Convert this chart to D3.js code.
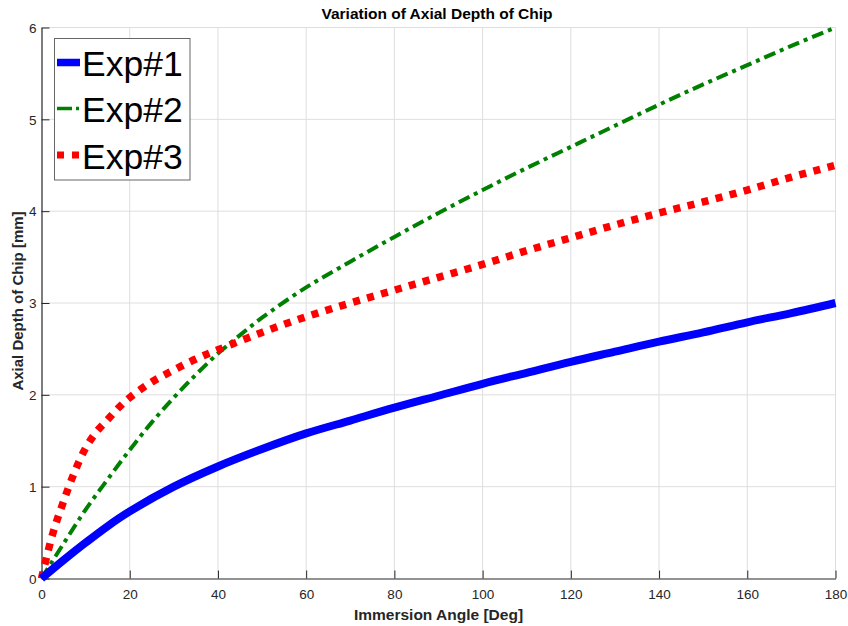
<!DOCTYPE html>
<html>
<head>
<meta charset="utf-8">
<script src="https://cdn.jsdelivr.net/npm/d3@7/dist/d3.min.js"></script>
<style>
  html, body { margin: 0; padding: 0; background: #fff; }
  svg { display: block; font-family: "Liberation Sans", Arial, Helvetica, sans-serif; }
</style>
</head>
<body>
<svg id="chart" width="848" height="626"></svg>
<script>
// ---- Data ----
const title = "Variation of Axial Depth of Chip";
const xLabel = "Immersion Angle [Deg]";
const yLabel = "Axial Depth of Chip [mm]";
const xTicks = [0, 20, 40, 60, 80, 100, 120, 140, 160, 180];
const yTicks = [0, 1, 2, 3, 4, 5, 6];
const seriesNames = ["Exp#1", "Exp#2", "Exp#3"];

const anglesExp1 = [0, 5, 10, 15, 20, 30, 40, 50, 60, 70, 80, 90, 100, 110, 120, 130, 140, 150, 160, 170, 180];
const depthExp1  = [0, 0.20, 0.39, 0.57, 0.73, 1.00, 1.22, 1.41, 1.58, 1.72, 1.86, 1.99, 2.12, 2.24, 2.36, 2.47, 2.58, 2.68, 2.79, 2.89, 3.00];

const anglesExp2 = [0, 5, 10, 15, 20, 25, 30, 35, 40, 45, 50, 60, 70, 80, 90, 100, 110, 120, 130, 140, 150, 160, 170, 180];
const depthExp2  = [0, 0.38, 0.75, 1.08, 1.40, 1.70, 1.97, 2.22, 2.45, 2.65, 2.84, 3.17, 3.45, 3.72, 3.98, 4.23, 4.47, 4.70, 4.93, 5.16, 5.38, 5.59, 5.80, 6.00];

const anglesExp3 = [0, 2.5, 5, 7.5, 10, 12.5, 15, 17.5, 20, 25, 30, 35, 40, 50, 60, 70, 80, 90, 100, 110, 120, 130, 140, 150, 160, 170, 180];
const depthExp3  = [0, 0.48, 0.84, 1.16, 1.42, 1.60, 1.73, 1.86, 1.97, 2.14, 2.27, 2.39, 2.49, 2.68, 2.85, 3.00, 3.14, 3.28, 3.42, 3.57, 3.71, 3.85, 3.98, 4.10, 4.23, 4.37, 4.50];

// ---- Layout ----
const svg = d3.select("#chart");
const m = { left: 41.5, right: 835.5, top: 27.5, bottom: 578.5 };
const x = d3.scaleLinear().domain([0, 180]).range([m.left, m.right]);
const y = d3.scaleLinear().domain([0, 6]).range([m.bottom, m.top]);
const axisColor = "#262626";

svg.append("rect").attr("width", 848).attr("height", 626).attr("fill", "#fff");

// grid
const grid = svg.append("g");
grid.selectAll(".gx").data(xTicks.filter(d => d !== 0)).enter().append("line")
  .attr("x1", d => x(d)).attr("x2", d => x(d))
  .attr("y1", m.top).attr("y2", m.bottom)
  .attr("stroke", "#dedede").attr("stroke-width", 1);
grid.selectAll(".gy").data(yTicks.filter(d => d !== 0)).enter().append("line")
  .attr("x1", m.left).attr("x2", m.right)
  .attr("y1", d => y(d)).attr("y2", d => y(d))
  .attr("stroke", "#dedede").attr("stroke-width", 1);

// axes
const fmt = d3.format("d");
const xAxis = d3.axisBottom(x).tickValues(xTicks).tickFormat(fmt).tickSizeInner(-8).tickSizeOuter(0);
const yAxis = d3.axisLeft(y).tickValues(yTicks).tickFormat(fmt).tickSizeInner(-8).tickSizeOuter(0);

const gx = svg.append("g").attr("transform", `translate(0,${m.bottom})`).call(xAxis);
const gy = svg.append("g").attr("transform", `translate(${m.left},0)`).call(yAxis);
[gx, gy].forEach(g => {
  g.attr("font-size", null).attr("font-family", null);
  g.select(".domain").attr("stroke", axisColor).attr("stroke-width", 1.2);
  g.selectAll(".tick line").attr("stroke", axisColor).attr("stroke-width", 1);
  g.selectAll(".tick text").attr("fill", axisColor)
    .style("font-size", "13.5px")
    .style("font-family", "'Liberation Sans', Arial, sans-serif");
});
gx.selectAll(".tick text").attr("y", 10.5).attr("dy", "0.71em");
gy.selectAll(".tick text").attr("x", -5).attr("dy", "0.35em");

// lines
const line = d3.line().x(d => x(d[0])).y(d => y(d[1])).curve(d3.curveCatmullRom.alpha(0.5));
const plot = svg.append("g");

plot.append("path")
  .datum(d3.zip(anglesExp2, depthExp2))
  .attr("d", line).attr("fill", "none")
  .attr("stroke", "#008000").attr("stroke-width", 4)
  .attr("stroke-dasharray", "12,5,4,5");

plot.append("path")
  .datum(d3.zip(anglesExp3, depthExp3))
  .attr("d", line).attr("fill", "none")
  .attr("stroke", "#ff0000").attr("stroke-width", 7.5)
  .attr("stroke-dasharray", "7,7.5");

plot.append("path")
  .datum(d3.zip(anglesExp1, depthExp1))
  .attr("d", line).attr("fill", "none")
  .attr("stroke", "#0000ff").attr("stroke-width", 8)
  .attr("stroke-linejoin", "round");

// title and labels
svg.append("text").attr("x", 437).attr("y", 18.5).attr("text-anchor", "middle")
  .attr("font-weight", "bold").attr("font-size", 15.5).attr("fill", "#000").text(title);
svg.append("text").attr("x", 438.5).attr("y", 620).attr("text-anchor", "middle")
  .attr("font-weight", "bold").attr("font-size", 15.5).attr("fill", axisColor).text(xLabel);
svg.append("text").attr("transform", "translate(22.5,301) rotate(-90)").attr("text-anchor", "middle")
  .attr("font-weight", "bold").attr("font-size", 15).attr("fill", axisColor).text(yLabel);

// legend
const lg = svg.append("g");
lg.append("rect").attr("x", 54.5).attr("y", 38.5).attr("width", 135.5).attr("height", 141.5)
  .attr("fill", "#fff").attr("stroke", "#666").attr("stroke-width", 1);
const legendY = [62.5, 108.5, 155];
const styles = [
  { color: "#0000ff", width: 7.5, dash: null },
  { color: "#008000", width: 3.5, dash: "15,4,3,5" },
  { color: "#ff0000", width: 7, dash: "7,8" }
];
seriesNames.forEach((name, i) => {
  const s = styles[i];
  const l = lg.append("line").attr("x1", 57).attr("x2", 80)
    .attr("y1", legendY[i]).attr("y2", legendY[i])
    .attr("stroke", s.color).attr("stroke-width", s.width);
  if (s.dash) l.attr("stroke-dasharray", s.dash);
  lg.append("text").attr("x", 82).attr("y", legendY[i] + 13.5)
    .attr("font-size", 35.5).attr("fill", "#000").text(name);
});
</script>
</body>
</html>
